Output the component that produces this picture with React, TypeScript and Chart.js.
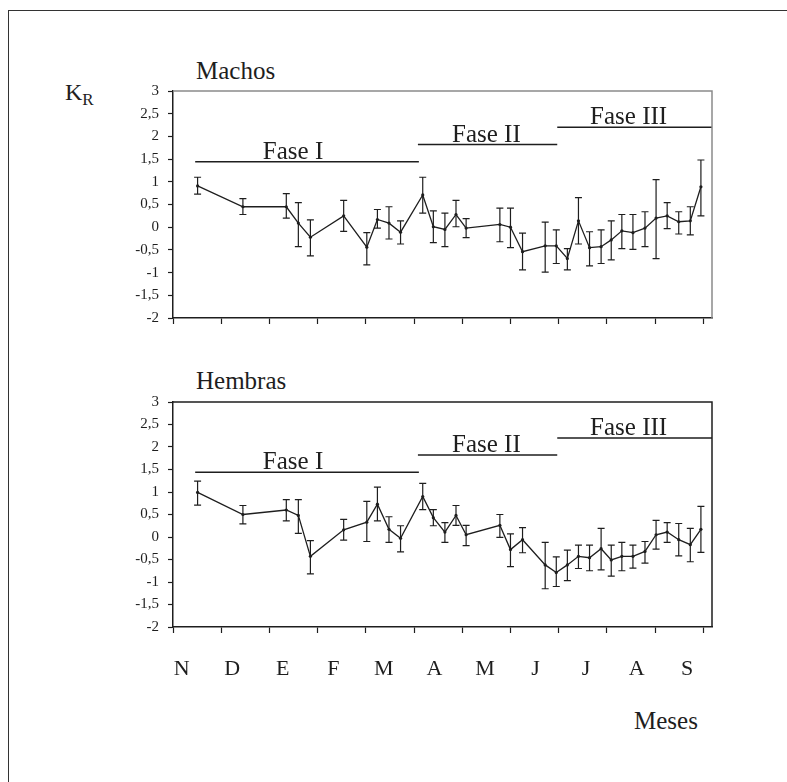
import React, { useEffect, useRef } from 'react';
import { Chart, registerables } from 'chart.js';

Chart.register(...registerables);

// ---- data ----
const MONTHS = ['N', 'D', 'E', 'F', 'M', 'A', 'M', 'J', 'J', 'A', 'S'];

// sampling dates, in months since the start of November
const SAMPLE_MONTH = [
  0.51, 1.45, 2.35, 2.6, 2.85, 3.54, 4.02, 4.24, 4.48, 4.72, 5.18, 5.4, 5.64, 5.87, 6.08, 6.78, 7.0,
  7.25, 7.72, 7.95, 8.18, 8.41, 8.64, 8.88, 9.09, 9.31, 9.54, 9.79, 10.02, 10.25, 10.49, 10.73, 10.95,
];

const MALE_MEAN = [
  0.91, 0.45, 0.45, 0.09, -0.22, 0.25, -0.44, 0.17, 0.09, -0.11, 0.71, 0.01, -0.05, 0.28, -0.02, 0.06, 0.0,
  -0.54, -0.41, -0.41, -0.69, 0.14, -0.45, -0.43, -0.28, -0.08, -0.12, -0.02, 0.2, 0.25, 0.12, 0.14, 0.89,
];
const MALE_HIGH = [
  1.1, 0.63, 0.74, 0.54, 0.16, 0.59, -0.12, 0.39, 0.45, 0.14, 1.1, 0.36, 0.31, 0.59, 0.19, 0.42, 0.42,
  -0.13, 0.11, -0.06, -0.47, 0.65, -0.1, -0.06, 0.14, 0.28, 0.28, 0.34, 1.05, 0.54, 0.34, 0.45, 1.48,
];
const MALE_LOW = [
  0.73, 0.28, 0.2, -0.43, -0.63, -0.09, -0.83, -0.02, -0.26, -0.37, 0.31, -0.34, -0.43, 0.01, -0.23, -0.32, -0.45,
  -0.94, -0.99, -0.8, -0.94, -0.37, -0.85, -0.8, -0.72, -0.47, -0.49, -0.43, -0.69, -0.03, -0.15, -0.17, 0.25,
];

const FEMALE_MEAN = [
  0.99, 0.5, 0.6, 0.48, -0.43, 0.16, 0.33, 0.73, 0.17, -0.03, 0.9, 0.43, 0.11, 0.48, 0.05, 0.26, -0.28,
  -0.06, -0.62, -0.79, -0.62, -0.43, -0.46, -0.26, -0.51, -0.43, -0.43, -0.32, 0.05, 0.11, -0.06, -0.17, 0.17,
];
const FEMALE_HIGH = [
  1.24, 0.7, 0.83, 0.83, -0.08, 0.39, 0.79, 1.11, 0.45, 0.25, 1.19, 0.61, 0.32, 0.7, 0.26, 0.5, 0.07,
  0.21, -0.12, -0.44, -0.29, -0.18, -0.18, 0.19, -0.18, -0.12, -0.18, -0.1, 0.37, 0.32, 0.3, 0.19, 0.68,
];
const FEMALE_LOW = [
  0.71, 0.29, 0.36, 0.08, -0.82, -0.07, -0.1, 0.36, -0.12, -0.33, 0.61, 0.25, -0.12, 0.26, -0.19, -0.01, -0.66,
  -0.35, -1.15, -1.1, -0.97, -0.7, -0.75, -0.73, -0.87, -0.75, -0.69, -0.58, -0.27, -0.12, -0.42, -0.55, -0.34,
];

const PHASE_NAMES = ['Fase I', 'Fase II', 'Fase III'];
const PHASE_START = [0.46, 5.08, 7.97];
const PHASE_END = [5.1, 7.97, 11.18];
const PHASE_LEVEL = [1.44, 1.82, 2.2];
const PHASE_LABEL_AT = [2.49, 6.5, 9.45];

const X_MIN = 0;
const X_MAX = 11.18;
// range of the (label-only) month axis, whose labels sit at month centres
const MONTH_AXIS_MIN = 0.33;
const MONTH_AXIS_MAX = 10.99;
const Y_MIN = -2;
const Y_MAX = 3;
const Y_STEP = 0.5;

// ---- styling ----
const FONT = '"Liberation Serif", "DejaVu Serif", serif';
const INK = '#1e1e1e';

const errorBars = {
  id: 'errorBars',
  afterDatasetsDraw(chart: any) {
    const { ctx } = chart;
    const xs = chart.scales.x;
    const ys = chart.scales.y;
    chart.data.datasets.forEach((ds: any) => {
      if (!ds.errLow) return;
      ctx.save();
      ctx.strokeStyle = INK;
      ctx.lineWidth = 1.2;
      ds.data.forEach((p: any, i: number) => {
        const px = xs.getPixelForValue(p.x);
        const yH = ys.getPixelForValue(ds.errHigh[i]);
        const yL = ys.getPixelForValue(ds.errLow[i]);
        ctx.beginPath();
        ctx.moveTo(px, yH);
        ctx.lineTo(px, yL);
        ctx.moveTo(px - 3.5, yH);
        ctx.lineTo(px + 3.5, yH);
        ctx.moveTo(px - 3.5, yL);
        ctx.lineTo(px + 3.5, yL);
        ctx.stroke();
      });
      ctx.restore();
    });
  },
};

const phases = {
  id: 'phases',
  afterDatasetsDraw(chart: any) {
    const { ctx } = chart;
    const xs = chart.scales.x;
    const ys = chart.scales.y;
    ctx.save();
    ctx.strokeStyle = INK;
    ctx.fillStyle = INK;
    ctx.lineWidth = 1.5;
    ctx.font = `25px ${FONT}`;
    ctx.textAlign = 'center';
    ctx.textBaseline = 'alphabetic';
    PHASE_NAMES.forEach((name, i) => {
      const yy = ys.getPixelForValue(PHASE_LEVEL[i]);
      ctx.beginPath();
      ctx.moveTo(xs.getPixelForValue(PHASE_START[i]), yy);
      ctx.lineTo(xs.getPixelForValue(PHASE_END[i]), yy);
      ctx.stroke();
      ctx.fillText(name, xs.getPixelForValue(PHASE_LABEL_AT[i]), yy - 3);
    });
    ctx.restore();
  },
};

const plotBox = {
  id: 'plotBox',
  afterDraw(chart: any, _args: any, opts: any) {
    const { ctx } = chart;
    const { left, top, right, bottom } = chart.chartArea;
    ctx.save();
    ctx.strokeStyle = opts.color || INK;
    ctx.lineWidth = 1.5;
    ctx.beginPath();
    ctx.moveTo(left, top);
    ctx.lineTo(right, top);
    ctx.lineTo(right, bottom);
    ctx.stroke();
    ctx.restore();
  },
};

function makeConfig(mean: number[], low: number[], high: number[], showMonths: boolean, boxColor: string): any {
  const scales: any = {
    x: {
      type: 'linear',
      position: 'bottom',
      weight: 0,
      min: X_MIN,
      max: X_MAX,
      afterFit: (s: any) => {
        s.height = showMonths ? 6 : 10;
        s.paddingLeft = 0;
        s.paddingRight = 0;
      },
      border: { display: true, color: INK, width: 1.5 },
      grid: { drawOnChartArea: false, drawTicks: true, tickLength: 6, tickColor: INK, tickWidth: 1.2 },
      ticks: {
        stepSize: 1,
        includeBounds: false,
        autoSkip: false,
        maxRotation: 0,
        display: false,
      },
    },
    y: {
      min: Y_MIN,
      max: Y_MAX,
      afterFit: (s: any) => {
        s.width = 73;
        s.paddingTop = 0;
        s.paddingBottom = 0;
      },
      border: { display: true, color: INK, width: 1.5 },
      grid: { drawOnChartArea: false, drawTicks: true, tickLength: 5, tickColor: INK, tickWidth: 1.2 },
      ticks: {
        stepSize: Y_STEP,
        autoSkip: false,
        padding: 9,
        color: INK,
        font: { family: FONT, size: 15 },
        callback: (v: number) => String(v).replace('.', ','),
      },
    },
  };
  if (showMonths) {
    scales.months = {
      type: 'linear',
      position: 'bottom',
      weight: 1,
      min: MONTH_AXIS_MIN,
      max: MONTH_AXIS_MAX,
      afterBuildTicks: (s: any) => {
        s.ticks = MONTHS.map((_, i) => ({ value: i + 0.5 }));
      },
      afterFit: (s: any) => {
        s.height = 54;
        s.paddingLeft = 0;
        s.paddingRight = 0;
      },
      border: { display: false },
      grid: { display: false, drawOnChartArea: false, drawTicks: false },
      ticks: {
        autoSkip: false,
        maxRotation: 0,
        padding: 23,
        color: INK,
        font: { family: FONT, size: 22 },
        callback: (v: number) => MONTHS[Math.floor(v)] ?? '',
      },
    };
  }
  return {
    type: 'line',
    data: {
      datasets: [
        {
          data: SAMPLE_MONTH.map((m, i) => ({ x: m, y: mean[i] })),
          errLow: low,
          errHigh: high,
          borderColor: INK,
          borderWidth: 1.3,
          pointRadius: 1.6,
          pointBackgroundColor: INK,
          pointBorderWidth: 0,
          tension: 0,
          fill: false,
        },
      ],
    },
    plugins: [errorBars, phases, plotBox],
    options: {
      responsive: false,
      animation: false,
      layout: { padding: { top: 10, right: 4, left: 0, bottom: 0 } },
      plugins: {
        legend: { display: false },
        tooltip: { enabled: false },
        plotBox: { color: boxColor },
      },
      scales,
    },
  };
}

const textBase: React.CSSProperties = {
  position: 'absolute',
  whiteSpace: 'nowrap',
  fontFamily: FONT,
  color: INK,
};

export default function App() {
  const topRef = useRef<HTMLCanvasElement>(null);
  const botRef = useRef<HTMLCanvasElement>(null);

  useEffect(() => {
    document.body.style.margin = '0';
    document.body.style.overflow = 'hidden';
    const c1 = new Chart(topRef.current as HTMLCanvasElement, makeConfig(MALE_MEAN, MALE_LOW, MALE_HIGH, false, '#8a8a8a'));
    const c2 = new Chart(botRef.current as HTMLCanvasElement, makeConfig(FEMALE_MEAN, FEMALE_LOW, FEMALE_HIGH, true, INK));
    return () => {
      c1.destroy();
      c2.destroy();
    };
  }, []);

  return (
    <div style={{ position: 'relative', width: 787, height: 782, overflow: 'hidden', background: '#fff' }}>
      <div
        style={{
          position: 'absolute',
          left: 8,
          top: 10,
          width: 900,
          height: 900,
          borderLeft: '1.5px solid #333',
          borderTop: '1.5px solid #333',
        }}
      />
      <div style={{ ...textBase, left: 65, top: 80, fontSize: 24, lineHeight: '24px' }}>
        K<span style={{ fontSize: 17, position: 'relative', top: 5 }}>R</span>
      </div>
      <div style={{ ...textBase, left: 196, top: 58, fontSize: 25, lineHeight: '25px' }}>Machos</div>
      <div style={{ ...textBase, left: 196, top: 368, fontSize: 25, lineHeight: '25px' }}>Hembras</div>
      <div style={{ ...textBase, left: 634, top: 708, fontSize: 25, lineHeight: '25px' }}>Meses</div>
      <canvas
        ref={topRef}
        width={616}
        height={247}
        style={{ position: 'absolute', left: 100, top: 81, width: 616, height: 247 }}
      />
      <canvas
        ref={botRef}
        width={616}
        height={295}
        style={{ position: 'absolute', left: 100, top: 392, width: 616, height: 295 }}
      />
    </div>
  );
}
